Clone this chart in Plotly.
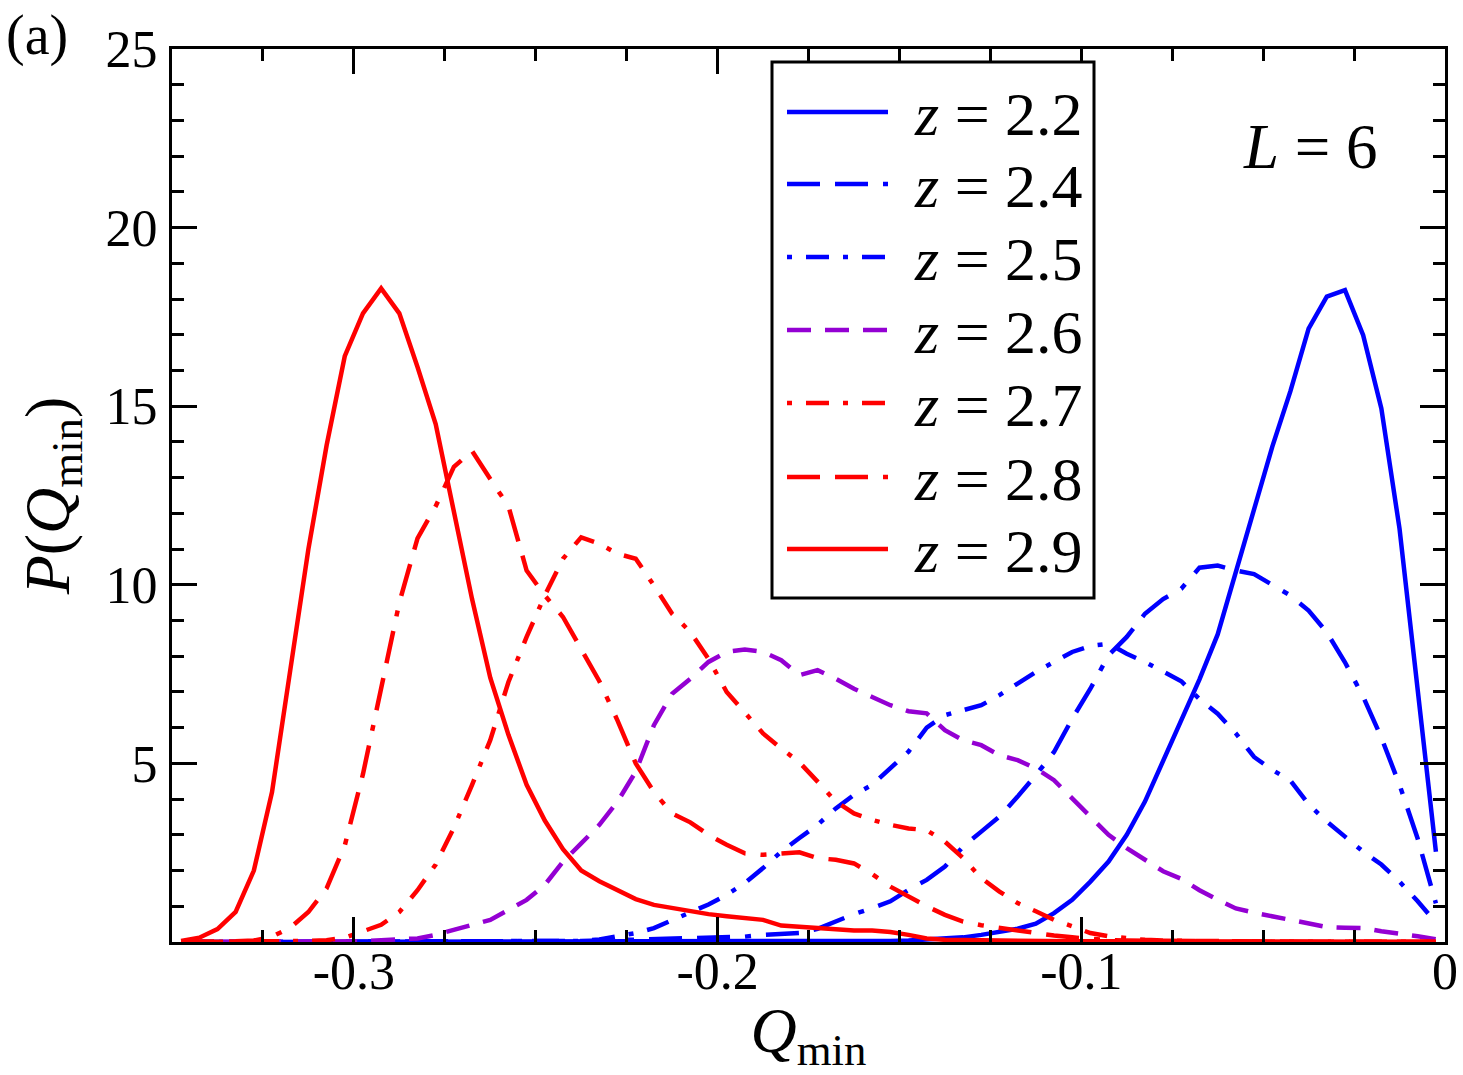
import plotly.graph_objects as go

# ---------------- data ----------------
q_min = [-0.3475, -0.3425, -0.3375, -0.3325, -0.3275, -0.3225, -0.3175, -0.3125, -0.3075, -0.3025,
         -0.2975, -0.2925, -0.2875, -0.2825, -0.2775, -0.2725, -0.2675, -0.2625, -0.2575, -0.2525,
         -0.2475, -0.2425, -0.2375, -0.2325, -0.2275, -0.2225, -0.2175, -0.2125, -0.2075, -0.2025,
         -0.1975, -0.1925, -0.1875, -0.1825, -0.1775, -0.1725, -0.1675, -0.1625, -0.1575, -0.1525,
         -0.1475, -0.1425, -0.1375, -0.1325, -0.1275, -0.1225, -0.1175, -0.1125, -0.1075, -0.1025,
         -0.0975, -0.0925, -0.0875, -0.0825, -0.0775, -0.0725, -0.0675, -0.0625, -0.0575, -0.0525,
         -0.0475, -0.0425, -0.0375, -0.0325, -0.0275, -0.0225, -0.0175, -0.0125, -0.0075, -0.0025]

p_z22 = [0, 0, 0, 0, 0, 0, 0, 0, 0, 0,
         0, 0, 0, 0, 0, 0, 0, 0, 0, 0,
         0, 0, 0, 0, 0, 0, 0, 0, 0, 0,
         0.01, 0.01, 0.01, 0.01, 0.02, 0.02, 0.02, 0.02, 0.03, 0.03,
         0.04, 0.06, 0.08, 0.13, 0.2, 0.27, 0.37, 0.51, 0.81, 1.18,
         1.69, 2.25, 3.0, 3.93, 5.05, 6.2, 7.35, 8.61, 10.36, 12.05,
         13.86, 15.42, 17.17, 18.07, 18.25, 16.99, 14.94, 11.57, 7.1, 2.53]

p_z24 = [0, 0, 0, 0, 0, 0, 0, 0, 0, 0,
         0, 0, 0, 0, 0, 0, 0, 0.01, 0.01, 0.01,
         0.01, 0.02, 0.03, 0.04, 0.05, 0.06, 0.07, 0.09, 0.1, 0.12,
         0.13, 0.15, 0.2, 0.23, 0.25, 0.37, 0.58, 0.78, 0.95, 1.14,
         1.46, 1.74, 2.11, 2.67, 3.09, 3.51, 4.07, 4.67, 5.32, 6.25,
         7.09, 8.03, 8.54, 9.19, 9.6, 9.89, 10.48, 10.54, 10.4, 10.3,
         10.0, 9.7, 9.28, 8.67, 7.83, 6.87, 5.72, 4.4, 2.89, 1.08]

p_z25 = [0, 0, 0, 0, 0, 0, 0, 0, 0, 0,
         0, 0, 0, 0, 0, 0, 0.01, 0.01, 0.01, 0.02,
         0.02, 0.02, 0.03, 0.07, 0.16, 0.25, 0.39, 0.6, 0.81, 1.05,
         1.32, 1.65, 2.07, 2.53, 2.91, 3.28, 3.74, 4.12, 4.4, 4.86,
         5.33, 6.0, 6.35, 6.49, 6.63, 6.91, 7.24, 7.56, 7.84, 8.12,
         8.29, 8.35, 8.07, 7.84, 7.57, 7.3, 6.8, 6.39, 5.84, 5.18,
         4.82, 4.52, 3.86, 3.37, 2.95, 2.53, 2.17, 1.69, 1.14, 0.54]

p_z26 = [0, 0, 0, 0, 0, 0, 0, 0, 0, 0.01,
         0.02, 0.05, 0.06, 0.1, 0.2, 0.34, 0.48, 0.62, 0.9, 1.18,
         1.6, 2.25, 2.76, 3.28, 3.93, 4.77, 6.07, 6.95, 7.37, 7.84,
         8.12, 8.19, 8.12, 7.89, 7.47, 7.61, 7.37, 7.09, 6.86, 6.63,
         6.46, 6.4, 5.93, 5.65, 5.51, 5.23, 5.09, 4.86, 4.53, 4.02,
         3.47, 3.0, 2.63, 2.3, 1.98, 1.77, 1.45, 1.18, 0.94, 0.82,
         0.72, 0.6, 0.5, 0.42, 0.4, 0.39, 0.3, 0.24, 0.16, 0.08]

p_z27 = [0, 0, 0, 0, 0, 0.01, 0.02, 0.03, 0.05, 0.12,
         0.3, 0.48, 0.84, 1.45, 2.17, 3.2, 4.4, 5.65, 7.28, 8.54,
         9.7, 10.73, 11.33, 11.15, 10.87, 10.73, 9.98, 9.19, 8.68, 7.93,
         7.0, 6.44, 5.84, 5.42, 5.03, 4.49, 3.93, 3.6, 3.42, 3.28,
         3.18, 3.13, 2.81, 2.35, 1.79, 1.41, 1.09, 0.86, 0.62, 0.44,
         0.25, 0.16, 0.1, 0.06, 0.04, 0.03, 0.03, 0.02, 0.02, 0.02,
         0.01, 0.01, 0.01, 0.01, 0.01, 0.01, 0.01, 0.01, 0.01, 0.01]

p_z28 = [0, 0, 0.01, 0.02, 0.04, 0.15, 0.4, 0.84, 1.5, 2.7,
         4.7, 7.1, 9.5, 11.3, 12.2, 13.3, 13.75, 12.96, 12.2, 10.4,
         9.7, 9.1, 8.2, 7.3, 6.2, 5.0, 4.2, 3.6, 3.35, 3.0,
         2.72, 2.48, 2.44, 2.48, 2.51, 2.35, 2.3, 2.2, 1.9, 1.55,
         1.27, 1.0, 0.76, 0.57, 0.47, 0.39, 0.31, 0.25, 0.18, 0.13,
         0.08, 0.05, 0.04, 0.03, 0.03, 0.02, 0.02, 0.02, 0.02, 0.01,
         0.01, 0.01, 0.01, 0.01, 0.01, 0.01, 0.01, 0.01, 0.01, 0.01]

p_z29 = [0.03, 0.12, 0.36, 0.84, 2.0, 4.2, 7.6, 11.0, 13.9, 16.4,
         17.6, 18.3, 17.6, 16.1, 14.5, 12.1, 9.6, 7.4, 5.8, 4.4,
         3.4, 2.6, 2.0, 1.7, 1.46, 1.2, 1.04, 0.95, 0.86, 0.78,
         0.72, 0.67, 0.62, 0.46, 0.43, 0.39, 0.34, 0.32, 0.32, 0.28,
         0.2, 0.1, 0.06, 0.05, 0.04, 0.04, 0.03, 0.03, 0.02, 0.02,
         0.02, 0.02, 0.02, 0.02, 0.01, 0.01, 0.01, 0.01, 0.01, 0.01,
         0.01, 0.01, 0.01, 0.01, 0.01, 0.01, 0.01, 0.01, 0.01, 0.01]

series_labels = ["2.2", "2.4", "2.5", "2.6", "2.7", "2.8", "2.9"]
series_values = [p_z22, p_z24, p_z25, p_z26, p_z27, p_z28, p_z29]

x_tickvals = [-0.3, -0.2, -0.1, 0]
x_ticktext = ["-0.3", "-0.2", "-0.1", "0"]
y_tickvals = [5, 10, 15, 20, 25]
y_ticktext = ["5", "10", "15", "20", "25"]

# ---------------- styles ----------------
BLUE = "#0000ff"
PURPLE = "#9400d3"
RED = "#ff0000"
DASH_LDL = "33px,15px,33px,15px,6px,15px"   # long-dash long-dash dot
DASH_DD = "5px,14px,23px,14px"              # dot-dash
DASH_D = "24px,14px"                        # dashed
styles = [
    (BLUE, "solid"),
    (BLUE, DASH_LDL),
    (BLUE, DASH_DD),
    (PURPLE, DASH_D),
    (RED, DASH_DD),
    (RED, DASH_LDL),
    (RED, "solid"),
]
LW = 4.5
FONT = "Liberation Serif, Times New Roman, serif"

fig = go.Figure()
for lab, vals, (col, dash) in zip(series_labels, series_values, styles):
    fig.add_trace(go.Scatter(x=q_min, y=vals, mode="lines", name="z = " + lab,
                             line=dict(color=col, width=LW, dash=dash),
                             showlegend=False))

# ---------------- layout ----------------
L, R, T, B = 172, 18, 49, 133
W, H = 1463, 1075
pw, ph = W - L - R, H - T - B

def px(xp):
    return (xp - L) / pw

def py(yp):
    return (H - B - yp) / ph

axis_common = dict(
    showline=True, linecolor="black", linewidth=3, mirror="allticks",
    ticks="inside", ticklen=25, tickwidth=3, tickcolor="black",
    showgrid=False, zeroline=False,
    tickfont=dict(family=FONT, size=52, color="black"),
)

fig.update_xaxes(
    range=[-0.35, 0], tickmode="array", tickvals=x_tickvals, ticktext=x_ticktext,
    minor=dict(tickmode="linear", tick0=0, dtick=0.025, ticks="inside", ticklen=12,
               tickwidth=3, tickcolor="black", showgrid=False),
    ticklabelstandoff=-18,
    title=dict(text="<i>Q</i><sub>min</sub>", font=dict(family=FONT, size=64, color="black"),
               standoff=2),
    **axis_common,
)
fig.update_yaxes(
    range=[0, 25], tickmode="array", tickvals=y_tickvals, ticktext=y_ticktext,
    minor=dict(tickmode="linear", tick0=0, dtick=1, ticks="inside", ticklen=12,
               tickwidth=3, tickcolor="black", showgrid=False),
    ticklabelstandoff=1,
    title=dict(text="<i>P</i>(<i>Q</i><sub>min</sub>)", font=dict(family=FONT, size=64, color="black"),
               standoff=16),
    **axis_common,
)

shapes = []
annotations = []

# legend box
shapes.append(dict(type="rect", xref="paper", yref="paper",
                   x0=px(772), x1=px(1094), y0=py(598), y1=py(62),
                   line=dict(color="black", width=3), fillcolor="white", layer="above"))
row_y = [112, 184, 257, 330, 403, 477, 549]
for lab, (col, dash), yy in zip(series_labels, styles, row_y):
    shapes.append(dict(type="line", xref="paper", yref="paper",
                       x0=px(787), x1=px(888), y0=py(yy), y1=py(yy),
                       line=dict(color=col, width=LW, dash=dash), layer="above"))
    annotations.append(dict(xref="paper", yref="paper", x=px(912), y=py(yy + 2),
                            xanchor="left", yanchor="middle", showarrow=False,
                            text="<i>z</i> = " + lab,
                            font=dict(family=FONT, size=62, color="black")))

annotations.append(dict(xref="paper", yref="paper", x=px(1310), y=py(147),
                        xanchor="center", yanchor="middle", showarrow=False,
                        text="<i>L</i> = 6", font=dict(family=FONT, size=63, color="black")))
annotations.append(dict(xref="paper", yref="paper", x=px(4), y=py(36),
                        xanchor="left", yanchor="middle", showarrow=False,
                        text="(a)", font=dict(family=FONT, size=56, color="black")))

fig.update_layout(
    width=W, height=H,
    margin=dict(l=L, r=R, t=T, b=B, autoexpand=False),
    paper_bgcolor="white", plot_bgcolor="white",
    shapes=shapes, annotations=annotations,
    showlegend=False,
)

fig.write_html("out.html", include_plotlyjs=True, config={"displayModeBar": False})
